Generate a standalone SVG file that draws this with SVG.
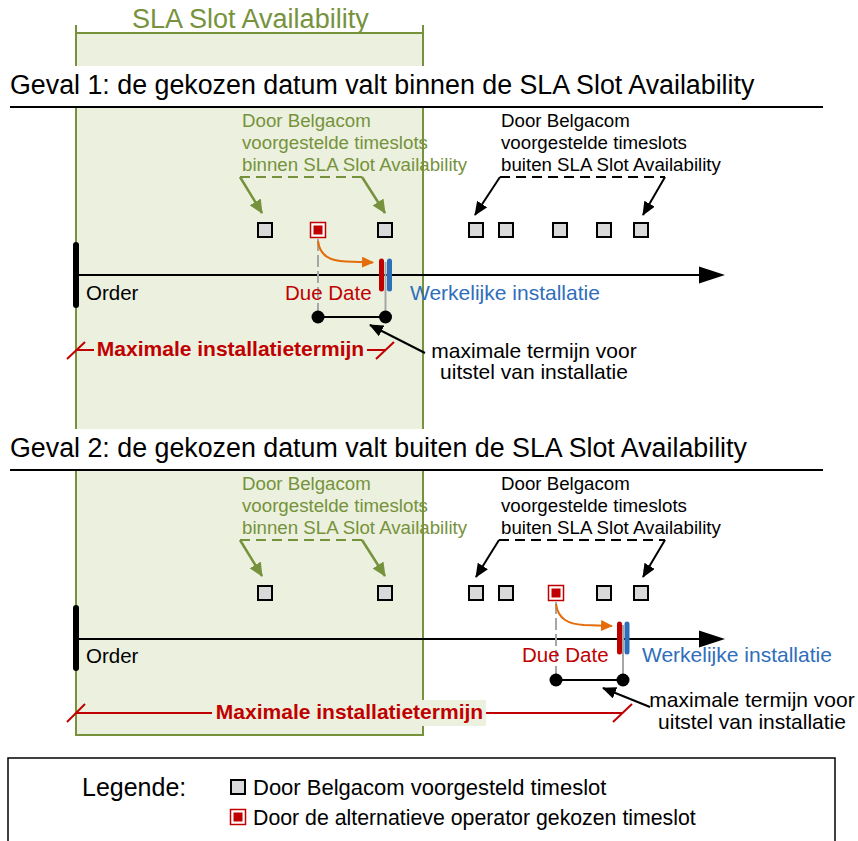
<svg xmlns="http://www.w3.org/2000/svg" width="858" height="841" viewBox="0 0 858 841">
<style>
text{font-family:"Liberation Sans",Arial,sans-serif;}
.g{fill:#76923C;font-size:18.7px;}
.k{fill:#000;font-size:18.7px;}
.t{fill:#000;font-size:26.8px;}
.lab{font-size:20.5px;}
.red{fill:#C00000;}
.blue{fill:#2F6EBA;}
.mx{fill:#C00000;font-size:21px;font-weight:bold;text-anchor:middle;}
.sq{fill:#D9D9D9;stroke:#000;stroke-width:2;}
.rsq{fill:#fff;stroke:#C00000;stroke-width:1.5;}
.rin{fill:#C00000;}
.gd{stroke:#76923C;stroke-width:2;fill:none;stroke-dasharray:10,6;}
.kd{stroke:#000;stroke-width:2;fill:none;stroke-dasharray:10,6;}
.ga{stroke:#76923C;stroke-width:2.5;fill:none;marker-end:url(#ag);}
.ka{stroke:#000;stroke-width:2;fill:none;marker-end:url(#ak);}
.oa{stroke:#E46C0A;stroke-width:2;fill:none;marker-end:url(#ao);}
.axis{stroke:#000;stroke-width:2;}
.ord{stroke:#000;stroke-width:6;stroke-linecap:round;}
.gray{stroke:#A6A6A6;stroke-width:2;}
.grayd{stroke:#A6A6A6;stroke-width:2;stroke-dasharray:12,4;}
.rbar{stroke:#C00000;stroke-width:5;stroke-linecap:round;}
.bbar{stroke:#2F6EBA;stroke-width:5;stroke-linecap:round;}
.dim{stroke:#C00000;stroke-width:2;fill:none;}
.span{stroke:#000;stroke-width:2;}
</style>
<defs>
<marker id="ag" viewBox="0 0 14 13" refX="13" refY="6.5" markerWidth="14" markerHeight="13" markerUnits="userSpaceOnUse" orient="auto"><path d="M0,0 L14,6.5 L0,13 z" fill="#76923C"/></marker>
<marker id="ak" viewBox="0 0 14 12" refX="13" refY="6" markerWidth="14" markerHeight="12" markerUnits="userSpaceOnUse" orient="auto"><path d="M0,0 L14,6 L0,12 z" fill="#000"/></marker>
<marker id="ao" viewBox="0 0 12 11" refX="11" refY="5.5" markerWidth="12" markerHeight="11" markerUnits="userSpaceOnUse" orient="auto"><path d="M0,0 L12,5.5 L0,11 z" fill="#E46C0A"/></marker>
</defs>

<g id="sla-zone">
<rect x="76" y="33" width="347" height="702" fill="#EBF1DE" stroke="#76923C" stroke-width="2"/>
<line x1="76" y1="25" x2="76" y2="33" stroke="#76923C" stroke-width="2"/>
<line x1="423" y1="25" x2="423" y2="33" stroke="#76923C" stroke-width="2"/>
<text x="132" y="28" fill="#76923C" font-size="27">SLA Slot Availability</text>
</g>

<g id="title1">
<rect x="60" y="66" width="380" height="40" fill="#fff"/>
<text class="t" x="10" y="94">Geval 1: de gekozen datum valt binnen de SLA Slot Availability</text>
<line x1="10" y1="107" x2="823" y2="107" stroke="#000" stroke-width="2"/>
</g>

<g id="title2">
<rect x="60" y="429" width="380" height="40" fill="#fff"/>
<text class="t" x="10" y="457">Geval 2: de gekozen datum valt buiten de SLA Slot Availability</text>
<line x1="10" y1="470" x2="823" y2="470" stroke="#000" stroke-width="2"/>
</g>

<g id="connectors">
<line class="gd" x1="240" y1="177" x2="362" y2="177"/>
<line class="ga" x1="240" y1="177" x2="262" y2="213"/>
<line class="ga" x1="362" y1="177" x2="385" y2="213"/>
<line class="kd" x1="500" y1="177" x2="665" y2="177"/>
<line class="ka" x1="500" y1="177" x2="475" y2="215"/>
<line class="ka" x1="665" y1="177" x2="643" y2="215"/>
<line class="axis" x1="76" y1="275" x2="702" y2="275"/>
<polygon points="699,266.5 725,275 699,283.5" fill="#000"/>
<line class="grayd" x1="318" y1="239" x2="318" y2="317"/>
<line class="gray" x1="385.5" y1="262" x2="385.5" y2="317"/>
<path class="oa" d="M318,241 C320,256 330,261 346,261.5 L373,262.5"/>
<line class="span" x1="318" y1="317" x2="385.5" y2="317"/>
<line class="ka" x1="425" y1="353" x2="370" y2="325"/>
<line class="dim" x1="76" y1="350" x2="385" y2="350"/>
<line class="dim" x1="67" y1="359" x2="85" y2="342"/>
<line class="dim" x1="376" y1="359" x2="394" y2="342"/>
<line class="gd" x1="240" y1="540" x2="362" y2="540"/>
<line class="ga" x1="240" y1="540" x2="262" y2="576"/>
<line class="ga" x1="362" y1="540" x2="385" y2="576"/>
<line class="kd" x1="499" y1="540" x2="665" y2="540"/>
<line class="ka" x1="499" y1="540" x2="476" y2="577"/>
<line class="ka" x1="665" y1="540" x2="643" y2="577"/>
<line class="axis" x1="76" y1="639" x2="702" y2="639"/>
<polygon points="699,630.5 725,639 699,647.5" fill="#000"/>
<line class="grayd" x1="556" y1="602" x2="556" y2="680"/>
<line class="gray" x1="623" y1="625" x2="623" y2="680"/>
<path class="oa" d="M556,604 C558,619 568,624 584,625 L612,626"/>
<line class="span" x1="556" y1="680" x2="623" y2="680"/>
<line class="ka" x1="650" y1="707" x2="603" y2="688"/>
<line class="dim" x1="76" y1="713" x2="623" y2="713"/>
<line class="dim" x1="67" y1="722" x2="85" y2="704"/>
<line class="dim" x1="613" y1="722" x2="632" y2="704"/>
</g>

<g id="case1-labels">
<text class="g" x="242" y="127">Door Belgacom</text>
<text class="g" x="242" y="149">voorgestelde timeslots</text>
<text class="g" x="242" y="171">binnen SLA Slot Availability</text>
<text class="k" x="501" y="127">Door Belgacom</text>
<text class="k" x="501" y="149">voorgestelde timeslots</text>
<text class="k" x="501" y="171">buiten SLA Slot Availability</text>
</g>

<g id="case1-slots">
<rect class="sq" x="258" y="223" width="14" height="14"/>
<rect class="rsq" x="310.5" y="222.5" width="15" height="15"/>
<rect class="rin" x="313.5" y="225.5" width="9" height="9"/>
<rect class="sq" x="378" y="223" width="14" height="14"/>
<rect class="sq" x="469" y="223" width="14" height="14"/>
<rect class="sq" x="499" y="223" width="14" height="14"/>
<rect class="sq" x="553" y="223" width="14" height="14"/>
<rect class="sq" x="597" y="223" width="14" height="14"/>
<rect class="sq" x="634" y="223" width="14" height="14"/>
</g>

<g id="case1-timeline">
<line class="ord" x1="76" y1="245" x2="76" y2="305"/>
<text class="lab" x="86" y="300">Order</text>
<line class="rbar" x1="381.5" y1="261" x2="381.5" y2="289"/>
<line class="bbar" x1="389.5" y1="261" x2="389.5" y2="289"/>
<text class="lab red" x="285" y="300">Due Date</text>
<text class="blue" x="410" y="300" font-size="21">Werkelijke installatie</text>
<circle cx="318" cy="317" r="6.5" fill="#000"/>
<circle cx="385.5" cy="317" r="6.5" fill="#000"/>
<text x="534" y="358" font-size="21" text-anchor="middle">maximale termijn voor</text>
<text x="534" y="379" font-size="21" text-anchor="middle">uitstel van installatie</text>
<rect x="94" y="338" width="273" height="25" fill="#EBF1DE"/>
<text class="mx" x="230.5" y="356">Maximale installatietermijn</text>
</g>

<g id="case2-labels">
<text class="g" x="242" y="490">Door Belgacom</text>
<text class="g" x="242" y="512">voorgestelde timeslots</text>
<text class="g" x="242" y="534">binnen SLA Slot Availability</text>
<text class="k" x="501" y="490">Door Belgacom</text>
<text class="k" x="501" y="512">voorgestelde timeslots</text>
<text class="k" x="501" y="534">buiten SLA Slot Availability</text>
</g>

<g id="case2-slots">
<rect class="sq" x="258" y="586" width="14" height="14"/>
<rect class="sq" x="378" y="586" width="14" height="14"/>
<rect class="sq" x="469" y="586" width="14" height="14"/>
<rect class="sq" x="499" y="586" width="14" height="14"/>
<rect class="rsq" x="548.5" y="585.5" width="15" height="15"/>
<rect class="rin" x="551.5" y="588.5" width="9" height="9"/>
<rect class="sq" x="597" y="586" width="14" height="14"/>
<rect class="sq" x="634" y="586" width="14" height="14"/>
</g>

<g id="case2-timeline">
<line class="ord" x1="76" y1="608" x2="76" y2="668"/>
<text class="lab" x="86" y="663">Order</text>
<line class="rbar" x1="619.5" y1="624" x2="619.5" y2="652"/>
<line class="bbar" x1="627" y1="624" x2="627" y2="652"/>
<text class="lab red" x="522" y="662">Due Date</text>
<text class="blue" x="642" y="662" font-size="21">Werkelijke installatie</text>
<circle cx="556" cy="680" r="6.5" fill="#000"/>
<circle cx="623" cy="680" r="6.5" fill="#000"/>
<text x="752" y="707" font-size="21" text-anchor="middle">maximale termijn voor</text>
<text x="752" y="729" font-size="21" text-anchor="middle">uitstel van installatie</text>
<rect x="212" y="700" width="274" height="26" fill="#EBF1DE"/>
<text class="mx" x="349.5" y="719">Maximale installatietermijn</text>
</g>

<g id="legend">
<rect x="8" y="758" width="827" height="100" fill="#fff" stroke="#000" stroke-width="1.5"/>
<text x="82" y="796" font-size="25">Legende:</text>
<rect class="sq" x="231" y="780" width="14" height="14"/>
<text x="253" y="795" font-size="22">Door Belgacom voorgesteld timeslot</text>
<rect class="rsq" x="230.5" y="809.5" width="15" height="15"/>
<rect class="rin" x="233.5" y="812.5" width="9" height="9"/>
<text x="253" y="825" font-size="21.3">Door de alternatieve operator gekozen timeslot</text>
</g>
</svg>
